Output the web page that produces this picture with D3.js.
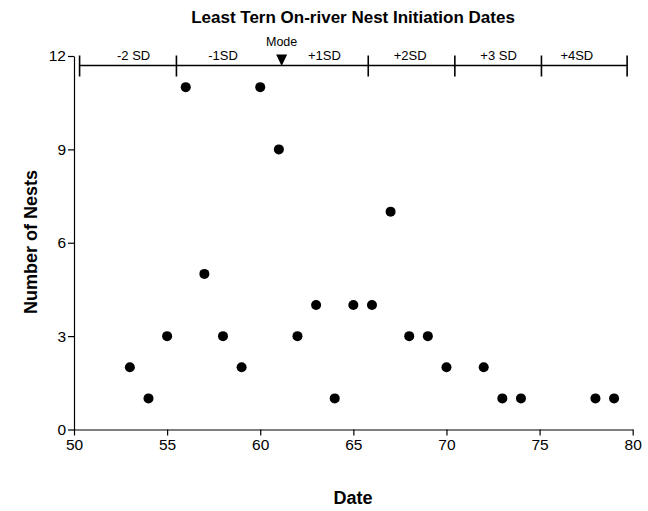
<!DOCTYPE html>
<html><head><meta charset="utf-8">
<script src="https://cdn.jsdelivr.net/npm/d3@7"></script>
<style>body{margin:0;background:#fff}svg{display:block}text{font-family:"Liberation Sans",Arial,sans-serif}</style>
</head><body><svg id="c" width="648" height="511"></svg>
<script>
const dates  = [53,54,55,56,57,58,59,60,61,62,63,64,65,66,67,68,69,70,72,73,74,78,79];
const nests  = [2, 1, 3, 11,5, 3, 2, 11,9, 3, 4, 1, 4, 4, 7, 3, 3, 2, 2, 1, 1, 1, 1];
const xTicks = [50,55,60,65,70,75,80];
const yTicks = [0,3,6,9,12];
const sdTicks = [50.3,55.5,65.8,70.45,75.1,79.7];
const sdLabels = ["-2 SD","-1SD","+1SD","+2SD","+3 SD","+4SD"];
const sdLabelPos = [53.2,58.0,63.45,68.05,72.8,77.0];
const modeValue = 61.15;

const svg = d3.select("#c");
const x = d3.scaleLinear().domain([50,80]).range([74,632.7]);
const y = d3.scaleLinear().domain([0,12]).range([429.5,56]);

svg.append("text").attr("x",353).attr("y",23).attr("text-anchor","middle")
  .attr("font-size",17).attr("font-weight","bold").text("Least Tern On-river Nest Initiation Dates");

const gx = svg.append("g").attr("transform","translate(0,429.5)")
  .call(d3.axisBottom(x).tickValues(xTicks).tickSize(6).tickPadding(3).tickSizeOuter(0));
const gy = svg.append("g").attr("transform","translate(74,0)")
  .call(d3.axisLeft(y).tickValues(yTicks).tickSize(6).tickPadding(2).tickSizeOuter(0));
[gx,gy].forEach(g=>{
  g.selectAll("path,line").attr("stroke","#000").attr("stroke-width",1.2);
  g.selectAll("text").attr("font-size",15.5).attr("fill","#000").attr("font-family","'Liberation Sans',Arial,sans-serif");
});

svg.append("text").attr("transform","translate(37,242) rotate(-90)").attr("text-anchor","middle")
  .attr("font-size",18).attr("font-weight","bold").text("Number of Nests");
svg.append("text").attr("x",353).attr("y",504).attr("text-anchor","middle")
  .attr("font-size",18).attr("font-weight","bold").text("Date");

// SD bar
const barY = 65.5;
svg.append("line").attr("x1",x(sdTicks[0])).attr("x2",x(sdTicks[sdTicks.length-1]))
  .attr("y1",barY).attr("y2",barY).attr("stroke","#000").attr("stroke-width",1.6);
svg.selectAll(".sdt").data(sdTicks).join("line").attr("class","sdt")
  .attr("x1",d=>x(d)).attr("x2",d=>x(d)).attr("y1",barY-10).attr("y2",barY+11)
  .attr("stroke","#000").attr("stroke-width",1.6);
svg.selectAll(".sdl").data(sdLabels).join("text").attr("class","sdl")
  .attr("x",(d,i)=>x(sdLabelPos[i])).attr("y",60).attr("text-anchor","middle")
  .attr("font-size",13).text(d=>d);
const mx = x(modeValue);
svg.append("path").attr("d",`M${mx-5.5},54.5 L${mx+5.5},54.5 L${mx},${barY+0.5}Z`).attr("fill","#000");
svg.append("text").attr("x",mx).attr("y",46).attr("text-anchor","middle").attr("font-size",12.5).text("Mode");

svg.selectAll(".pt").data(dates).join("circle").attr("class","pt")
  .attr("cx",d=>x(d)).attr("cy",(d,i)=>y(nests[i])).attr("r",5).attr("fill","#000");
</script></body></html>
